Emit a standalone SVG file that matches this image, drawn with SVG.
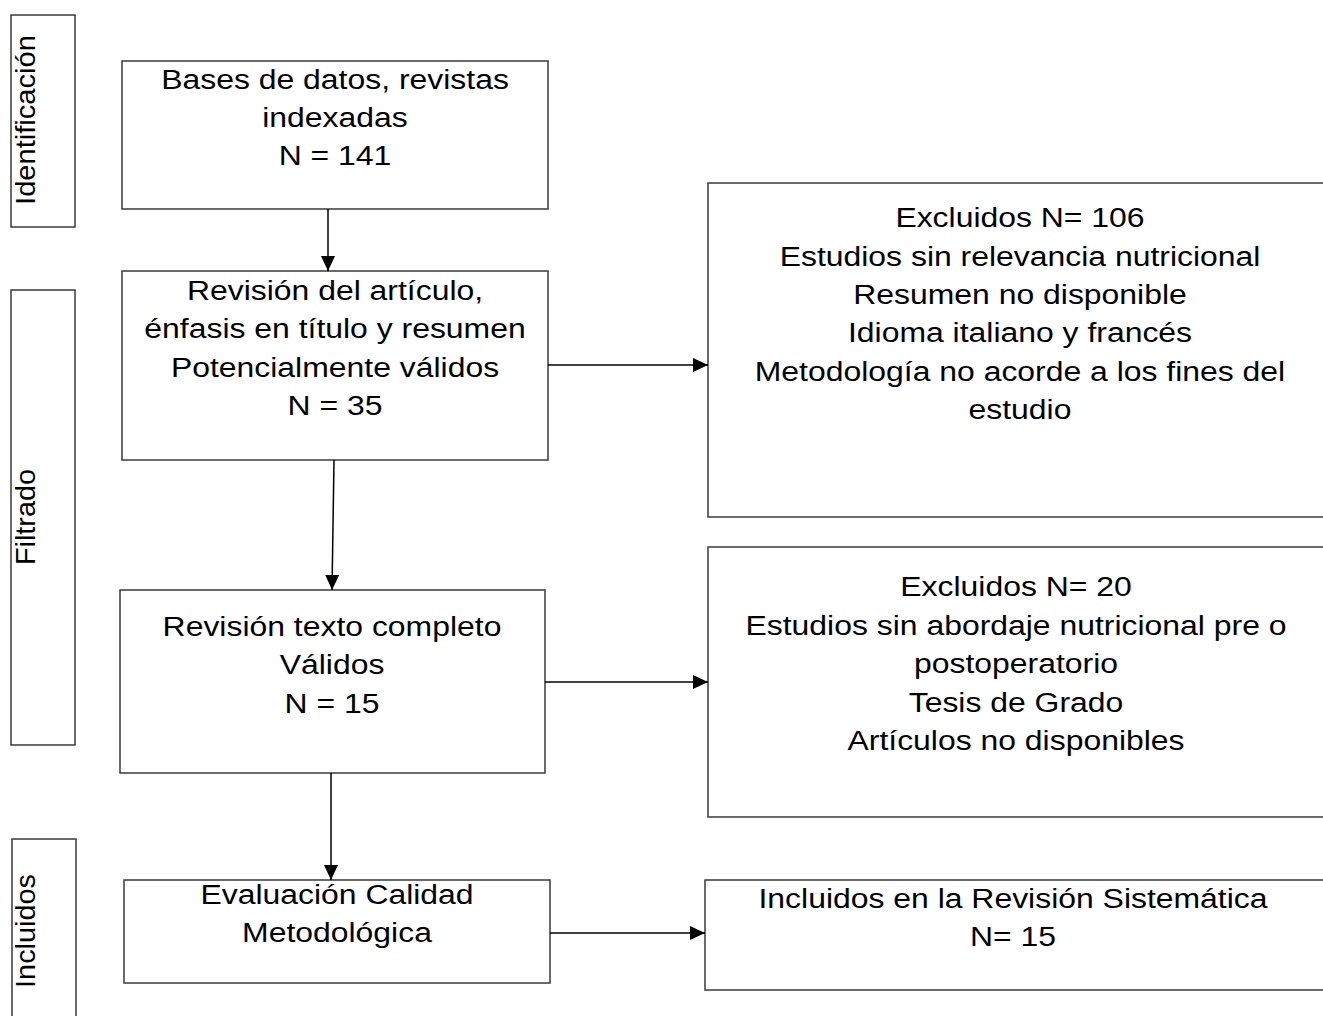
<svg xmlns="http://www.w3.org/2000/svg" width="1323" height="1016" viewBox="0 0 1323 1016">
<style>
.box{fill:#fff;stroke:#3a3a3a;stroke-width:1.5}
.t{font-family:"Liberation Sans",Arial,sans-serif;font-size:28px;fill:#000;text-anchor:middle}
.c{stroke:#000;stroke-width:1.5;fill:none}
</style>
<defs>
<marker id="ah" viewBox="0 0 15 14" refX="15" refY="7" markerWidth="15" markerHeight="14" markerUnits="userSpaceOnUse" orient="auto">
<path d="M0,0 L15,7 L0,14 z" fill="#000"/>
</marker>
</defs>
<rect width="1323" height="1016" fill="#fff"/>
<g id="stage-identificacion">
<rect class="box" x="11" y="15" width="64" height="212"/>
<text class="t" transform="translate(35,120) rotate(-90) scale(1.04,1)">Identificación</text>
</g>
<g id="stage-filtrado">
<rect class="box" x="11" y="290" width="64" height="455"/>
<text class="t" transform="translate(35,517) rotate(-90) scale(1.03,1)">Filtrado</text>
</g>
<g id="stage-incluidos">
<rect class="box" x="12" y="839" width="64" height="190"/>
<text class="t" transform="translate(35,931) rotate(-90) scale(1.03,1)">Incluidos</text>
</g>
<g id="n1">
<rect class="box" x="122" y="61" width="426" height="148"/>
<g transform="translate(335,0) scale(1.14,1)">
<text class="t" x="0" y="89">Bases de datos, revistas</text>
<text class="t" x="0" y="127">indexadas</text>
<text class="t" x="0" y="165">N = 141</text>
</g>
</g>
<g id="n2">
<rect class="box" x="122" y="271" width="426" height="189"/>
<g transform="translate(335,0) scale(1.14,1)">
<text class="t" x="0" y="300">Revisión del artículo,</text>
<text class="t" x="0" y="338">énfasis en título y resumen</text>
<text class="t" x="0" y="377">Potencialmente válidos</text>
<text class="t" x="0" y="415">N = 35</text>
</g>
</g>
<g id="n3">
<rect class="box" x="120" y="590" width="425" height="183"/>
<g transform="translate(332,0) scale(1.14,1)">
<text class="t" x="0" y="636">Revisión texto completo</text>
<text class="t" x="0" y="674">Válidos</text>
<text class="t" x="0" y="713">N = 15</text>
</g>
</g>
<g id="n4">
<rect class="box" x="124" y="880" width="426" height="103"/>
<g transform="translate(337,0) scale(1.14,1)">
<text class="t" x="0" y="904">Evaluación Calidad</text>
<text class="t" x="0" y="942">Metodológica</text>
</g>
</g>
<g id="r1">
<rect class="box" x="708" y="183" width="630" height="334"/>
<g transform="translate(1020,0) scale(1.14,1)">
<text class="t" x="0" y="227">Excluidos N= 106</text>
<text class="t" x="0" y="266">Estudios sin relevancia nutricional</text>
<text class="t" x="0" y="304">Resumen no disponible</text>
<text class="t" x="0" y="342">Idioma italiano y francés</text>
<text class="t" x="0" y="381">Metodología no acorde a los fines del</text>
<text class="t" x="0" y="419">estudio</text>
</g>
</g>
<g id="r2">
<rect class="box" x="708" y="547" width="630" height="270"/>
<g transform="translate(1016,0) scale(1.14,1)">
<text class="t" x="0" y="596">Excluidos N= 20</text>
<text class="t" x="0" y="635">Estudios sin abordaje nutricional pre o</text>
<text class="t" x="0" y="673">postoperatorio</text>
<text class="t" x="0" y="712">Tesis de Grado</text>
<text class="t" x="0" y="750">Artículos no disponibles</text>
</g>
</g>
<g id="r3">
<rect class="box" x="705" y="880" width="630" height="110"/>
<g transform="translate(1013,0) scale(1.14,1)">
<text class="t" x="0" y="908">Incluidos en la Revisión Sistemática</text>
<text class="t" x="0" y="946">N= 15</text>
</g>
</g>
<g id="connectors">
<line class="c" x1="328" y1="209" x2="328" y2="271" marker-end="url(#ah)"/>
<line class="c" x1="334" y1="460" x2="332" y2="590" marker-end="url(#ah)"/>
<line class="c" x1="331" y1="773" x2="331" y2="880" marker-end="url(#ah)"/>
<line class="c" x1="548" y1="365" x2="708" y2="365" marker-end="url(#ah)"/>
<line class="c" x1="545" y1="682" x2="708" y2="682" marker-end="url(#ah)"/>
<line class="c" x1="550" y1="933" x2="705" y2="933" marker-end="url(#ah)"/>
</g>
</svg>
